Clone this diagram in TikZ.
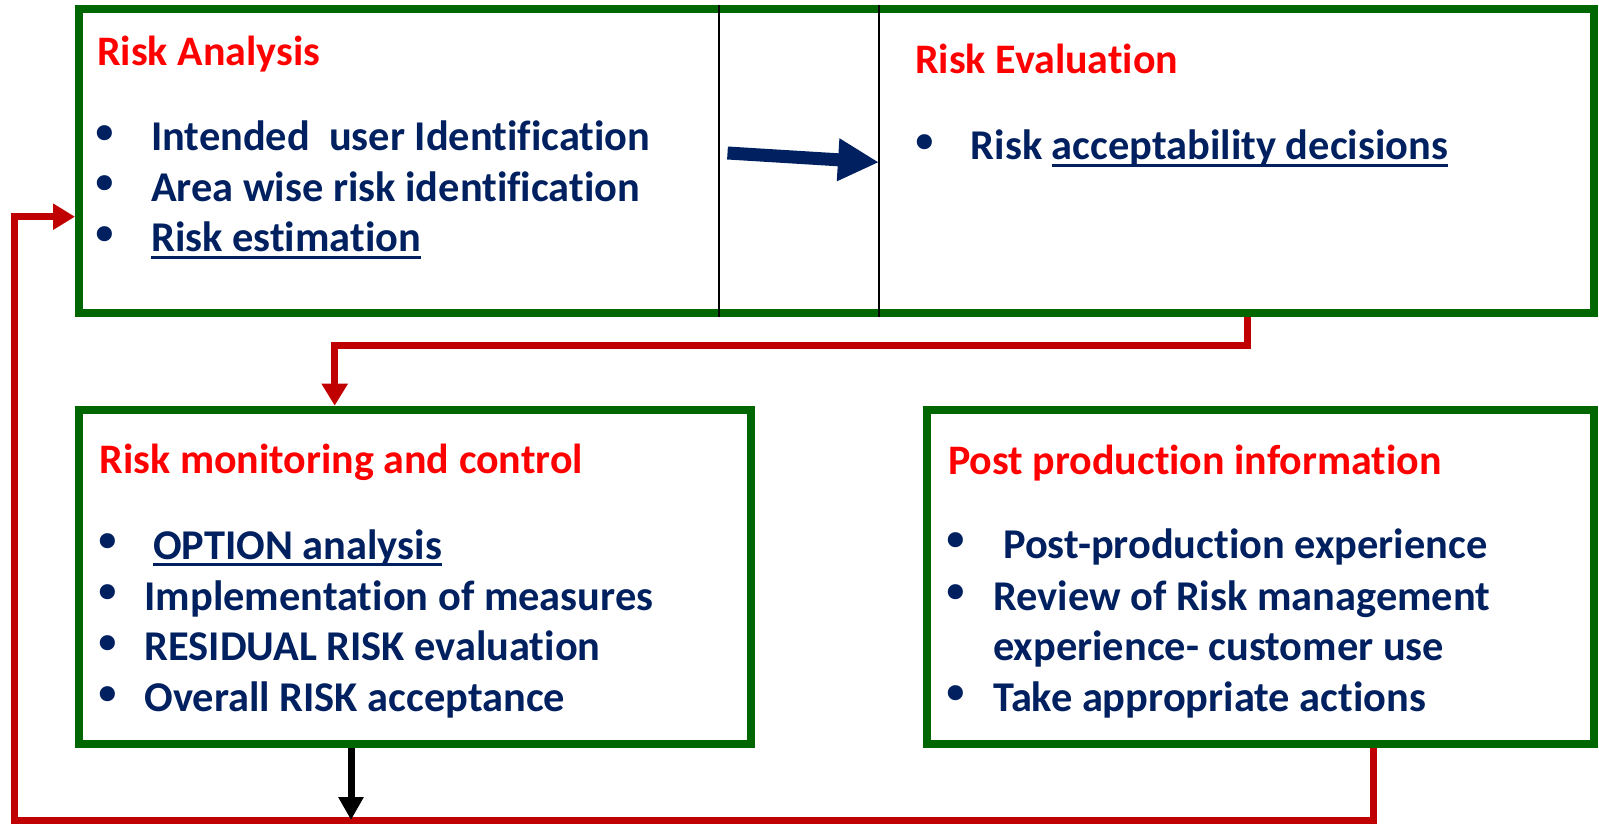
\documentclass[tikz,border=0pt]{standalone}
\usepackage{fontspec}
\setmainfont{Carlito}[Ligatures=NoCommon]
\newfontfamily\bulletfont{DejaVu Sans}
\usetikzlibrary{arrows.meta}

\definecolor{boxgreen}{HTML}{006600}
\definecolor{headred}{HTML}{FF0000}
\definecolor{linered}{HTML}{C00000}
\definecolor{textnavy}{HTML}{002060}

% underline that sits just under the baseline
\newcommand{\undl}[1]{\setbox0=\hbox{#1}\rlap{\rule[-7pt]{\wd0}{3pt}}\box0}

\tikzset{
	greenbox/.style={draw=boxgreen, line width=8pt, rectangle, inner sep=0pt},
	boxtitle/.style={anchor=base west, inner sep=0pt, text=headred, font=\fontsize{42}{48}\selectfont\bfseries},
	bulletitem/.style={anchor=base west, inner sep=0pt, text=textnavy, font=\fontsize{42.4}{48}\selectfont\bfseries},
	bulletdot/.style={inner sep=0pt, text=textnavy, font=\bulletfont\fontsize{52}{52}\selectfont},
	redline/.style={draw=linered, line width=7pt, -{Triangle[length=22pt,width=25pt]}},
}

\begin{document}
\begin{tikzpicture}[x=1pt, y=-1pt]
	\useasboundingbox (0,0) rectangle (1599,824);
	
	% boxes
	\node[greenbox, minimum width=1515pt, minimum height=303.7pt] (top) at (836.5,160.85) {};
	\node[greenbox, minimum width=671.7pt, minimum height=334.5pt] (mon) at (414.85,576.95) {};
	\node[greenbox, minimum width=667pt, minimum height=334.5pt] (post) at (1260.5,576.95) {};
	
	% thin cell lines in the top box
	\coordinate (cellA) at (719,0);
	\coordinate (cellB) at (879,0);
	\draw[line width=1.2pt] (top.north -| cellA) -- (top.south -| cellA);
	\draw[line width=1.2pt] (top.north -| cellB) -- (top.south -| cellB);
	
	% Risk Analysis
	\node[boxtitle] (anaT) at (97,65.7) {Risk Analysis};
	\node[bulletdot] (anaD1) at (105,139.2) {•};
	\node[bulletitem] (ana1) at (151,150.7) {Intended\ \ user Identification};
	\node[bulletdot] (anaD2) at (105,189.5) {•};
	\node[bulletitem] (ana2) at (151,201) {Area wise risk identification};
	\node[bulletdot] (anaD3) at (105,240.2) {•};
	\node[bulletitem] (ana3) at (151,251.7) {\undl{Risk estimation}};
	
	% Risk Evaluation
	\node[boxtitle] (evaT) at (915,74) {Risk Evaluation};
	\node[bulletdot] (evaD1) at (925,148.5) {•};
	\node[bulletitem] (eva1) at (970.6,160) {Risk \undl{acceptability decisions}};
	
	% Risk monitoring and control
	\node[boxtitle] (monT) at (99.5,473) {Risk monitoring and control};
	\node[bulletdot] (monD1) at (108,547.5) {•};
	\node[bulletitem] (mon1) at (153,559) {\undl{OPTION analysis}};
	\node[bulletdot] (monD2) at (108,598.5) {•};
	\node[bulletitem] (mon2) at (144.4,610) {Implementation of measures};
	\node[bulletdot] (monD3) at (108,649.2) {•};
	\node[bulletitem] (mon3) at (144.4,660.7) {RESIDUAL RISK evaluation};
	\node[bulletdot] (monD4) at (108,700.2) {•};
	\node[bulletitem] (mon4) at (144.4,711.7) {Overall RISK acceptance};
	
	% Post production information
	\node[boxtitle] (postT) at (948,474) {Post production information};
	\node[bulletdot] (postD1) at (956,546.5) {•};
	\node[bulletitem] (post1) at (1003,558) {Post-production experience};
	\node[bulletdot] (postD2) at (956,598.5) {•};
	\node[bulletitem] (post2) at (993,610) {Review of Risk management};
	\node[bulletitem] (post3) at (993,660) {experience- customer use};
	\node[bulletdot] (postD4) at (956,699.5) {•};
	\node[bulletitem] (post4) at (993,711) {Take appropriate actions};
	
	% arrow between the cells
	\coordinate (gapL) at (727.5,153);
	\coordinate (gapR) at (879,162.3);
	\draw[textnavy, line width=13pt, -{Triangle[length=41pt,width=40pt]}] (gapL) -- (gapR);
	
	% evaluation -> monitoring
	\draw[redline] ([xshift=410.5pt]top.south) -- ++(0,28.8) -| ([xshift=-80.15pt]mon.north);
	
	% feedback loop
	\coordinate (loop) at (14.7,820);
	\draw[redline] ([xshift=112.5pt]post.south) |- (loop) |- ([yshift=-55.85pt]top.west);
	\draw[line width=7pt, -{Triangle[length=23pt,width=24pt]}] ([xshift=-63.85pt]mon.south) -- ([xshift=-63.85pt]mon.south |- loop);
\end{tikzpicture}
\end{document}
